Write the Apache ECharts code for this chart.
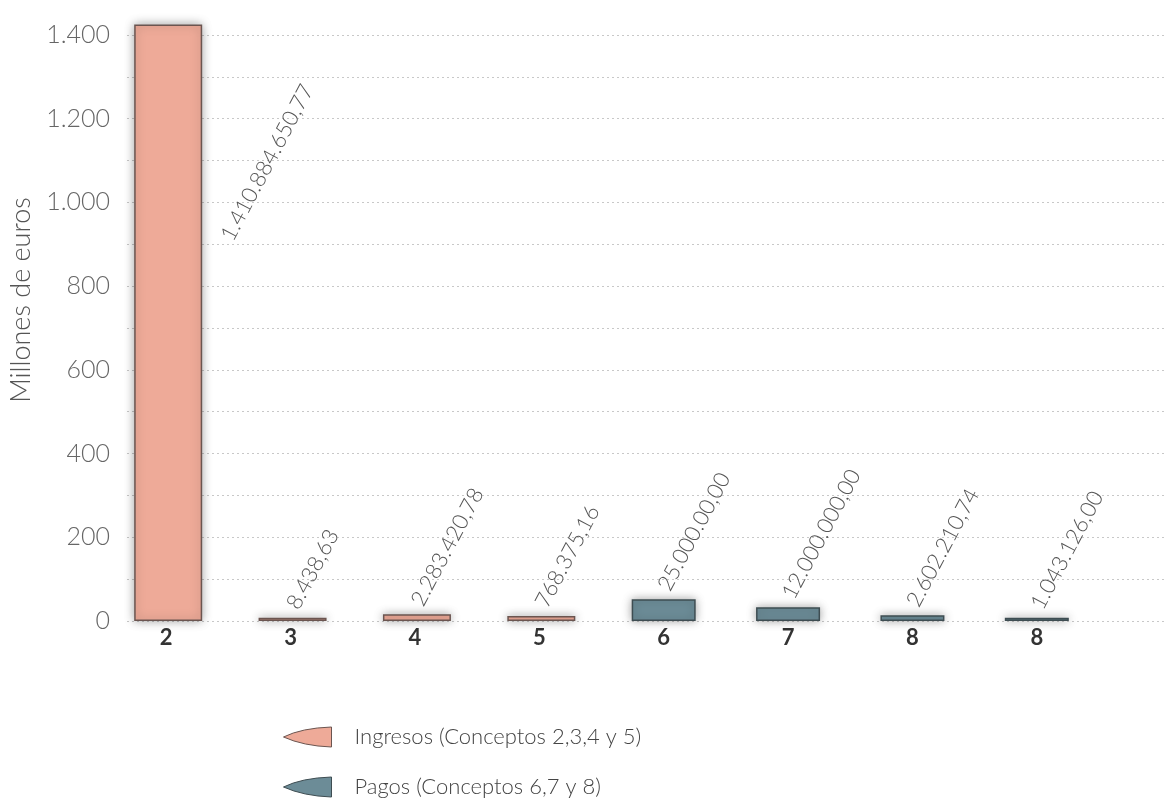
<!DOCTYPE html>
<html>
<head>
<meta charset="utf-8">
<script src="https://cdn.jsdelivr.net/npm/echarts@6/dist/echarts.min.js"></script>
<style>
html,body{margin:0;padding:0;background:#fff;}
#chart{width:1170px;height:807px;}
</style>
</head>
<body>
<div id="chart"></div>
<script>
// Data (bar heights in millions of euros as drawn; label texts as printed)
const categories = ['2', '3', '4', '5', '6', '7', '8', '8'];
const ingresosValues = [1425, 8, 16, 12, null, null, null, null];
const pagosValues = [null, null, null, null, 52, 33, 14, 8];
const valueLabels = ['1.410.884.650,77', '8.438,63', '2.283.420,78', '768.375,16',
  '25.000.00,00', '12.000.000,00', '2.602.210,74', '1.043.126,00'];
const seriesNames = ['Ingresos (Conceptos 2,3,4 y 5)', 'Pagos (Conceptos 6,7 y 8)'];
const yAxisName = 'Millones de euros';
const yMin = 0, yMax = 1400, yStep = 100, yLabelStep = 200;

function fmt(v) {
  return String(v).replace(/\B(?=(\d{3})+(?!\d))/g, '.');
}

const FONT = 'Lato, "Open Sans", sans-serif';
const iconPath = 'path://M0,10 Q18,1 48,0 L48,20 Q20,19 0,10 Z';

function buildData(values) {
  return values.map((v, i) => {
    if (v === null) return null;
    const item = { value: v, label: { formatter: valueLabels[i] } };
    if (i === 0) {
      item.label.position = ['136%', '36%'];
    }
    return item;
  });
}

const labelStyle = {
  show: true,
  position: 'top',
  rotate: 62,
  align: 'left',
  verticalAlign: 'middle',
  distance: 10,
  color: '#555',
  fontSize: 22,
  fontWeight: 300,
  fontFamily: FONT
};

const chart = echarts.init(document.getElementById('chart'));
chart.setOption({
  animation: false,
  backgroundColor: '#fff',
  grid: [
    // background grid: gridlines + value labels
    { left: 120, right: 5, top: 35, bottom: 186 },
    // bar grid
    { left: 104, right: 71, top: 35, bottom: 186 }
  ],
  legend: {
    orient: 'vertical',
    left: 278,
    top: 721,
    itemGap: 28,
    itemWidth: 50,
    itemHeight: 20,
    textStyle: { color: '#444', fontSize: 22, fontWeight: 300, fontFamily: FONT, padding: [0, 0, 0, 17] },
    data: [
      { name: seriesNames[0], icon: iconPath, itemStyle: { color: '#EEAA98', borderColor: '#6b5550', borderWidth: 1 } },
      { name: seriesNames[1], icon: iconPath, itemStyle: { color: '#6C8C97', borderColor: '#3e4d52', borderWidth: 1 } }
    ]
  },
  xAxis: [
    { type: 'value', gridIndex: 0, show: false, min: 0, max: 1 },
    {
      type: 'category',
      gridIndex: 1,
      data: categories,
      axisLine: { show: false },
      axisTick: { show: false },
      axisLabel: { color: '#333', fontSize: 22, fontWeight: 'bold', margin: 6, fontFamily: FONT },
      splitLine: { show: false }
    }
  ],
  yAxis: [
    {
      type: 'value',
      gridIndex: 0,
      min: yMin,
      max: yMax,
      interval: yStep,
      name: yAxisName,
      nameLocation: 'middle',
      nameGap: 92,
      nameRotate: 90,
      nameTextStyle: { color: '#555', fontSize: 27, fontWeight: 300, fontFamily: FONT, padding: [0, 0, 0, 56] },
      axisLine: { show: false },
      axisTick: { show: false },
      axisLabel: {
        color: '#666', fontSize: 25, fontWeight: 300, margin: 17, fontFamily: FONT,
        formatter: v => (v % yLabelStep === 0 ? fmt(v) : '')
      },
      splitLine: { lineStyle: { color: '#c8c8c8', type: [2, 3], width: 1 } }
    },
    {
      type: 'value',
      gridIndex: 1,
      min: yMin,
      max: yMax,
      interval: yStep,
      show: false,
      splitLine: { show: false }
    }
  ],
  series: [
    {
      name: seriesNames[0],
      type: 'bar',
      xAxisIndex: 1,
      yAxisIndex: 1,
      data: buildData(ingresosValues),
      barWidth: 68,
      barGap: '-100%',
      clip: false,
      itemStyle: {
        color: '#EEAA98', borderColor: '#6b5550', borderWidth: 1.5,
        shadowBlur: 10, shadowColor: 'rgba(0,0,0,0.35)'
      },
      label: labelStyle
    },
    {
      name: seriesNames[1],
      type: 'bar',
      xAxisIndex: 1,
      yAxisIndex: 1,
      data: buildData(pagosValues),
      barWidth: 64,
      barGap: '-100%',
      clip: false,
      itemStyle: {
        color: '#6C8C97', borderColor: '#3e4d52', borderWidth: 1.5,
        shadowBlur: 10, shadowColor: 'rgba(0,0,0,0.35)'
      },
      label: labelStyle
    }
  ]
});
</script>
</body>
</html>
